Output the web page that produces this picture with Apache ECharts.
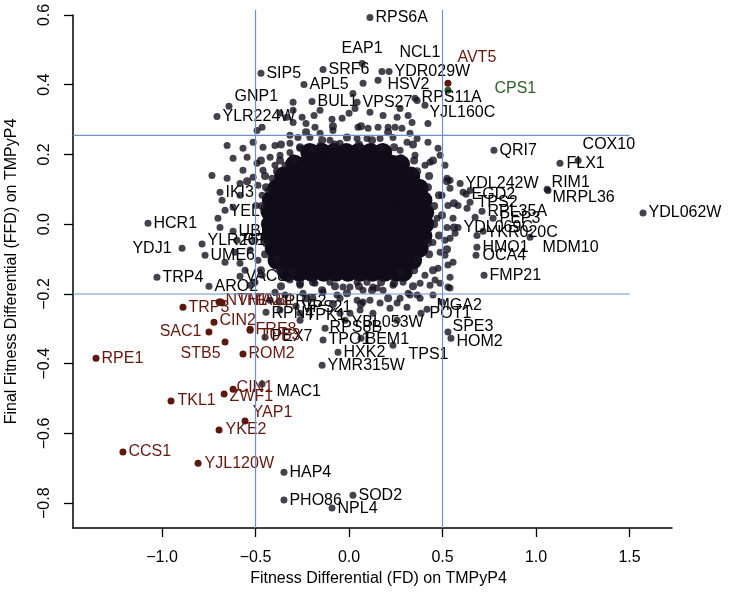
<!DOCTYPE html>
<html><head><meta charset="utf-8">
<script src="https://cdn.jsdelivr.net/npm/echarts@6/dist/echarts.min.js"></script>
<style>html,body{margin:0;padding:0;background:#fff}#c{width:729px;height:592px}</style>
</head><body><div id="c"></div>
<script>
// ---------------- data ----------------
const xTicks = [-1.0, -0.5, 0.0, 0.5, 1.0, 1.5];
const yTicks = [-0.8, -0.6, -0.4, -0.2, 0.0, 0.2, 0.4, 0.6];

const geneNames = ["RPS6A","EAP1","SRF6","NCL1","YDR029W","HSV2","APL5","SIP5","GNP1","YLR224W","BUL1","VPS27","RPS11A","YJL160C",
 "QRI7","COX10","FLX1","RIM1","MRPL36","YDL062W","YDL242W","EGD2","TPS2","RPL35A","PEP3","YDL069C","YKR020C","HMO1","OCA4","FMP21","MDM10",
 "IKI3","YEL044W","UBP3","YLR261C","RPS9B","UME6","VAC8","HCR1","YDJ1","TRP4","ARO2",
 "MAC1","HAP4","PHO86","SOD2","NPL4","YMR315W","HXK2","TPO1","BEM1","TPS1","MGA2","POT1","SPE3","HOM2","YBL053W","RPS8B","RPN4","PRE2","VPS21","TPK1","PEX7",
 "TRP3","NTH1","VMA21","FAB1","CIN2","SAC1","FRE8","TUB3","STB5","ROM2","RPE1","CIN1","ZWF1","TKL1","YAP1","YKE2","CCS1","YJL120W",
 "AVT5","CPS1"];
const geneFD = [0.112,0.070,-0.139,0.176,0.214,0.155,-0.241,-0.471,-0.642,-0.706,-0.198,0.043,0.364,0.422,
 0.775,1.225,1.128,1.059,1.064,1.572,0.594,0.626,0.647,0.711,0.770,0.583,0.717,0.684,0.679,0.722,0.968,
 -0.690,-0.663,-0.620,-0.786,-0.599,-0.770,-0.583,-1.075,-0.893,-1.027,-0.749,
 -0.465,-0.348,-0.348,0.021,-0.091,-0.144,-0.059,-0.139,0.064,0.235,0.417,0.385,0.529,0.545,-0.021,-0.128,-0.444,-0.374,-0.283,-0.262,-0.449,
 -0.888,-0.695,-0.679,-0.685,-0.722,-0.749,-0.529,-0.529,-0.663,-0.567,-1.353,-0.620,-0.668,-0.952,-0.556,-0.695,-1.209,-0.807,
 0.529,0.529];
const geneFFD = [0.593,0.461,0.444,0.438,0.438,0.413,0.401,0.433,0.338,0.309,0.352,0.350,0.355,0.289,
 0.212,0.183,0.175,0.100,0.097,0.032,0.117,0.086,0.063,0.037,0.017,-0.009,-0.020,-0.066,-0.089,-0.146,-0.037,
 0.092,0.040,-0.020,-0.057,-0.046,-0.089,-0.149,0.003,-0.069,-0.152,-0.178,
 -0.458,-0.711,-0.791,-0.777,-0.814,-0.404,-0.367,-0.332,-0.327,-0.347,-0.244,-0.255,-0.309,-0.327,-0.275,-0.298,-0.252,-0.223,-0.235,-0.255,-0.324,
 -0.238,-0.223,-0.226,-0.223,-0.281,-0.309,-0.301,-0.304,-0.338,-0.372,-0.384,-0.473,-0.487,-0.507,-0.564,-0.590,-0.653,-0.685,
 0.404,0.384];
const geneGroup = ["k","k","k","k","k","k","k","k","k","k","k","k","k","k",
 "k","k","k","k","k","k","k","k","k","k","k","k","k","k","k","k","k",
 "k","k","k","k","k","k","k","k","k","k","k",
 "k","k","k","k","k","k","k","k","k","k","k","k","k","k","k","k","k","k","k","k","k",
 "r","r","r","r","r","r","r","r","r","r","r","r","r","r","r","r","r","r","r",
 "g","g"];

// dense centre of the cloud (unlabelled genes)
const cloudCore = [
 [-0.21,0.206],[-0.145,0.206],[-0.08,0.206],[-0.015,0.206],[0.05,0.206],[0.115,0.206],[0.18,0.206],
 [-0.29,0.172],[-0.225,0.172],[-0.16,0.172],[-0.095,0.172],[-0.03,0.172],[0.035,0.172],[0.10,0.172],[0.165,0.172],[0.23,0.172],[0.275,0.172],
 [-0.35,0.138],[-0.285,0.138],[-0.22,0.138],[-0.155,0.138],[-0.09,0.138],[-0.025,0.138],[0.04,0.138],[0.105,0.138],[0.17,0.138],[0.235,0.138],[0.30,0.138],[0.33,0.138],
 [-0.385,0.103],[-0.32,0.103],[-0.255,0.103],[-0.19,0.103],[-0.125,0.103],[-0.06,0.103],[0.005,0.103],[0.07,0.103],[0.135,0.103],[0.20,0.103],[0.265,0.103],[0.33,0.103],[0.375,0.103],
 [-0.415,0.069],[-0.35,0.069],[-0.285,0.069],[-0.22,0.069],[-0.155,0.069],[-0.09,0.069],[-0.025,0.069],[0.04,0.069],[0.105,0.069],[0.17,0.069],[0.235,0.069],[0.30,0.069],[0.365,0.069],[0.395,0.069],
 [-0.42,0.034],[-0.365,0.034],[-0.30,0.034],[-0.235,0.034],[-0.17,0.034],[-0.105,0.034],[-0.04,0.034],[0.025,0.034],[0.09,0.034],[0.155,0.034],[0.22,0.034],[0.285,0.034],[0.35,0.034],[0.405,0.034],
 [-0.42,0.0],[-0.37,0.0],[-0.305,0.0],[-0.24,0.0],[-0.175,0.0],[-0.11,0.0],[-0.045,0.0],[0.02,0.0],[0.085,0.0],[0.15,0.0],[0.215,0.0],[0.28,0.0],[0.345,0.0],[0.405,0.0],
 [-0.42,-0.034],[-0.365,-0.034],[-0.30,-0.034],[-0.235,-0.034],[-0.17,-0.034],[-0.105,-0.034],[-0.04,-0.034],[0.025,-0.034],[0.09,-0.034],[0.155,-0.034],[0.22,-0.034],[0.285,-0.034],[0.35,-0.034],[0.395,-0.034],
 [-0.40,-0.069],[-0.345,-0.069],[-0.28,-0.069],[-0.215,-0.069],[-0.15,-0.069],[-0.085,-0.069],[-0.02,-0.069],[0.045,-0.069],[0.11,-0.069],[0.175,-0.069],[0.24,-0.069],[0.305,-0.069],[0.375,-0.069],
 [-0.385,-0.103],[-0.32,-0.103],[-0.255,-0.103],[-0.19,-0.103],[-0.125,-0.103],[-0.06,-0.103],[0.005,-0.103],[0.07,-0.103],[0.135,-0.103],[0.20,-0.103],[0.265,-0.103],[0.34,-0.103],
 [-0.33,-0.138],[-0.265,-0.138],[-0.20,-0.138],[-0.135,-0.138],[-0.07,-0.138],[-0.005,-0.138],[0.06,-0.138],[0.125,-0.138],[0.19,-0.138],[0.255,-0.138],[0.29,-0.138]
];

// genes crowding the rim of the dense centre
const cloudRim = [
 [0.455,0.052],[0.422,0.106],[0.364,0.152],[0.278,0.189],[0.171,0.218],[0.053,0.229],[-0.075,0.229],[-0.193,0.218],[-0.299,0.189],[-0.385,0.152],
 [-0.444,0.106],[-0.466,0.052],[-0.444,-0.054],[-0.385,-0.100],[-0.299,-0.138],[-0.193,-0.166],[-0.075,-0.178],[0.053,-0.178],[0.171,-0.166],
 [0.278,-0.138],[0.364,-0.100],[0.422,-0.054],[0.455,0.000],
 [0.497,0.026],[0.481,0.083],[0.428,0.138],[0.348,0.183],[0.241,0.221],[0.123,0.241],[-0.011,0.249],[-0.144,0.241],[-0.262,0.221],[-0.369,0.183],
 [-0.449,0.138],[-0.449,-0.086],[-0.369,-0.132],[-0.262,-0.169],[-0.144,-0.189],[-0.011,-0.198],[0.123,-0.189],
 [0.241,-0.169],[0.348,-0.132],[0.428,-0.086],[0.481,-0.032],
 [0.561,0.060],[0.524,0.123],[0.449,0.183],[0.342,0.229],[0.209,0.264],[0.064,0.281],[-0.086,0.281],[-0.230,0.264],[-0.364,0.229],[-0.471,0.183],
 [-0.545,0.123],[-0.471,-0.132],[-0.364,-0.178],[-0.230,-0.212],[-0.086,-0.229],[0.064,-0.229],[0.209,-0.212],
 [0.342,-0.178],[0.449,-0.132],[0.524,-0.072],[0.561,-0.009]
];

// scattered genes around the centre
const cloudHalo = [
 [-0.465,0.278],[-0.492,0.269],[-0.369,0.318],[-0.299,0.350],[-0.299,0.327],[-0.332,0.307],[-0.251,0.307],[-0.230,0.289],[-0.187,0.312],[-0.155,0.327],
 [-0.091,0.301],[-0.037,0.304],[0.000,0.318],[0.032,0.332],[0.021,0.375],[0.075,0.404],[0.112,0.321],[0.182,0.312],[0.257,0.307],[0.316,0.312],
 [0.337,0.292],[0.273,0.332],[0.209,0.278],[0.246,0.278],[0.353,0.361],[0.406,0.341],[0.048,0.278],[0.102,0.275],[0.155,0.278],[0.283,0.275],
 [0.043,0.246],[0.096,0.246],[0.166,0.246],[0.235,0.249],[0.310,0.235],[0.364,0.246],[0.422,0.235],[0.326,0.261],[-0.316,0.255],[-0.273,0.249],
 [-0.209,0.249],[-0.155,0.261],[-0.102,0.241],[-0.182,0.278],[-0.299,0.292],[-0.086,0.269],[-0.396,0.226],[-0.316,0.232],[-0.460,0.221],[-0.513,0.235],
 [-0.567,0.218],[-0.652,0.226],[-0.422,0.192],[-0.545,0.192],[-0.620,0.189],[-0.492,0.175],[-0.567,0.155],[-0.460,0.155],[-0.513,0.135],[-0.733,0.140],
 [-0.652,0.132],[-0.583,0.117],[-0.679,0.069],[-0.620,0.049],[-0.701,0.017],[-0.690,-0.009],[-0.663,-0.109],[-0.583,-0.112],[-0.556,-0.132],[-0.610,-0.080],
 [-0.529,-0.175],[-0.396,-0.195],[-0.342,-0.203],[-0.246,-0.198],[-0.193,-0.212],[-0.139,-0.195],[-0.064,-0.203],[-0.032,-0.180],[-0.422,-0.218],
 [0.005,-0.180],[0.075,-0.189],[0.128,-0.180],[0.182,-0.189],[0.235,-0.175],[0.316,-0.198],[0.380,-0.212],[0.433,-0.175],[0.487,-0.169],[0.529,-0.180],
 [-0.048,-0.212],[0.043,-0.218],[0.112,-0.218],[0.166,-0.226],[0.257,-0.226],[0.310,-0.238],[-0.048,-0.255],[0.005,-0.255],[0.059,-0.246],[0.128,-0.255],
 [0.257,-0.275],[0.043,-0.166],[0.096,-0.166],[0.150,-0.183],[0.289,-0.166],[0.326,-0.203],[0.075,-0.223],[0.273,-0.212],[0.219,-0.241],[0.364,-0.203],
 [0.449,-0.203],[0.497,-0.223],[0.540,-0.183],
 [0.476,0.218],[0.433,0.178],[0.524,0.132],[0.540,0.103],[0.610,0.092],[0.529,0.054],[0.471,0.017],[0.556,0.017],[0.524,-0.009],[0.631,0.046],
 [0.449,-0.052],[0.540,-0.040],[0.487,-0.080],[0.556,-0.109],[0.476,-0.126],[0.529,-0.117],[0.540,-0.152],[0.567,-0.026],[0.684,-0.032],[0.674,0.020],
 [0.647,0.097],[0.540,0.126],[0.513,0.169],[0.487,0.198],[0.497,0.083],[0.583,0.054],[0.513,-0.046],[0.513,-0.089],[0.460,-0.160],
 [-0.487,0.112],[-0.465,0.083],[-0.497,0.054],[-0.503,-0.046],[-0.529,-0.074],[-0.487,-0.103],[-0.465,-0.146],[-0.503,-0.166],
 [-0.583,0.083],[-0.369,0.198],[-0.316,0.206],[-0.396,0.169],[-0.342,0.169],[-0.289,0.183],
 [-0.412,0.132],[-0.433,0.097],
 [-0.262,0.218],[-0.155,0.226],[-0.048,0.232],[0.059,0.223],[0.166,0.218],[0.273,0.212],[0.353,0.198],[0.406,0.169],
 [-0.316,-0.160],[-0.262,-0.175],[-0.182,-0.169],[-0.102,-0.166],[0.380,-0.169],[0.406,-0.146],[-0.369,-0.138],
 [-0.369,-0.246],[-0.262,-0.275]
];

// cut-off lines
const cutFD = [-0.5, 0.5];
const cutFFD = [0.255, -0.2];

// ---------------- styling (label placement: [side, dx, dy]) ----------------
const labelPlace = {
 EAP1:['r',-24,-15], NCL1:['r',14,-19], HSV2:['r',6,4], GNP1:['r',2,-10], RPS11A:['r',1,-3], YJL160C:['r',-2,-11],
 COX10:['r',1,-16], FLX1:['r',3,0], RIM1:['r',1,-7], MRPL36:['r',1,7], TPS2:['r',4,0], PEP3:['r',3,0], YKR020C:['r',0,1],
 OCA4:['r',3,0], MDM10:['r',9,10], YEL044W:['r',1,1], YLR261C:['r',2,-4], YDJ1:['l',-7,0],
 MAC1:['r',11,8], BEM1:['r',1,1], TPS1:['r',12,9], MGA2:['r',6,-4], POT1:['r',5,0], SPE3:['r',1,-5], HOM2:['r',2,3],
 YBL053W:['r',3,2], RPS8B:['r',1,-1], RPN4:['r',2,1], VPS21:['r',2,1], TPK1:['r',2,2], PEX7:['r',3,-1],
 NTH1:['r',3,-1], VMA21:['r',12,-2], FAB1:['r',31,-1], CIN2:['r',2,-2], SAC1:['l',-4,0], TUB3:['r',6,5],
 STB5:['l',-1,11], CIN1:['r',0,-2], ZWF1:['r',2,3], TKL1:['r',3,0], YAP1:['r',4,-8], YKE2:['r',3,0], YJL120W:['r',3,0],
 AVT5:['r',6,-26], CPS1:['r',43,-2]
};
const FONT = '"Liberation Sans", Arial, Helvetica, sans-serif';
const DOT = 'rgba(22,18,32,0.8)';
const groupColor = {k:{dot:DOT, text:'#000'}, r:{dot:'#5a180e', text:'#64190f'}, g:{dot:'#2c582c', text:'#2f5f2f'}};
const X_MIN=-1.476, X_MAX=1.727, Y_MIN=-0.871, Y_MAX=0.6, LINE_TOP=0.614, LINE_RIGHT=1.5;

const geneData = geneNames.map((n,i)=>{
  const p = labelPlace[n] || ['r',2,0];
  const c = groupColor[geneGroup[i]];
  return {
    name:n, value:[geneFD[i], geneFFD[i]],
    itemStyle:{color:c.dot, opacity:1},
    label:{show:true, formatter:n, color:c.text, position:p[0]==='l'?'left':'right', distance:0, offset:[p[1],p[2]]}
  };
});

const fmt = v => (v<0?'\u2212':'') + Math.abs(v).toFixed(1);
const refLine = (pts)=>({type:'line', data:pts, showSymbol:false, symbol:'none', clip:false, silent:true, z:5,
   lineStyle:{color:'#6f8fc8', width:1.2}, animation:false});

const chart = echarts.init(document.getElementById('c'), null, {renderer:'canvas'});
chart.setOption({
  animation:false,
  backgroundColor:'#fff',
  grid:{left:73, top:15, right:57, bottom:64, containLabel:false, outerBoundsMode:'none'},
  xAxis:{type:'value', min:X_MIN, max:X_MAX, splitLine:{show:false},
    axisLine:{onZero:false, lineStyle:{color:'#000', width:1.5}},
    axisTick:{show:true, length:9, customValues:xTicks, lineStyle:{color:'#000', width:1.3}},
    axisLabel:{customValues:xTicks, formatter:fmt, color:'#000', fontSize:16, fontFamily:FONT, margin:22},
    name:'Fitness Differential (FD) on TMPyP4', nameLocation:'middle', nameGap:43,
    nameTextStyle:{color:'#000', fontSize:16, fontFamily:FONT, padding:[0,0,0,12]}},
  yAxis:{type:'value', min:Y_MIN, max:Y_MAX, splitLine:{show:false},
    axisLine:{onZero:false, lineStyle:{color:'#000', width:1.5}},
    axisTick:{show:true, length:9, customValues:yTicks, lineStyle:{color:'#000', width:1.3}},
    axisLabel:{customValues:yTicks, formatter:fmt, color:'#000', fontSize:16, fontFamily:FONT, rotate:90, margin:20},
    name:'Final Fitness Differential (FFD) on TMPyP4', nameLocation:'middle', nameGap:53,
    nameTextStyle:{color:'#000', fontSize:16, fontFamily:FONT}},
  series:[
    {type:'scatter', name:'genes', data:geneData, symbolSize:7, z:2, silent:true,
     itemStyle:{opacity:1}, label:{fontSize:16, fontFamily:FONT}},
    {type:'scatter', name:'core', data:cloudCore, symbolSize:19, z:3, silent:true,
     itemStyle:{color:'#100c17', opacity:1}},
    {type:'scatter', name:'rim', data:cloudRim, symbolSize:8, z:3, silent:true,
     itemStyle:{color:DOT, opacity:1}},
    {type:'scatter', name:'halo', data:cloudHalo, symbolSize:7, z:3, silent:true,
     itemStyle:{color:DOT, opacity:1}},
    refLine([[cutFD[0], Y_MIN],[cutFD[0], LINE_TOP]]),
    refLine([[cutFD[1], Y_MIN],[cutFD[1], LINE_TOP]]),
    refLine([[X_MIN, cutFFD[0]],[LINE_RIGHT, cutFFD[0]]]),
    refLine([[X_MIN, cutFFD[1]],[LINE_RIGHT, cutFFD[1]]])
  ]
});
</script></body></html>
